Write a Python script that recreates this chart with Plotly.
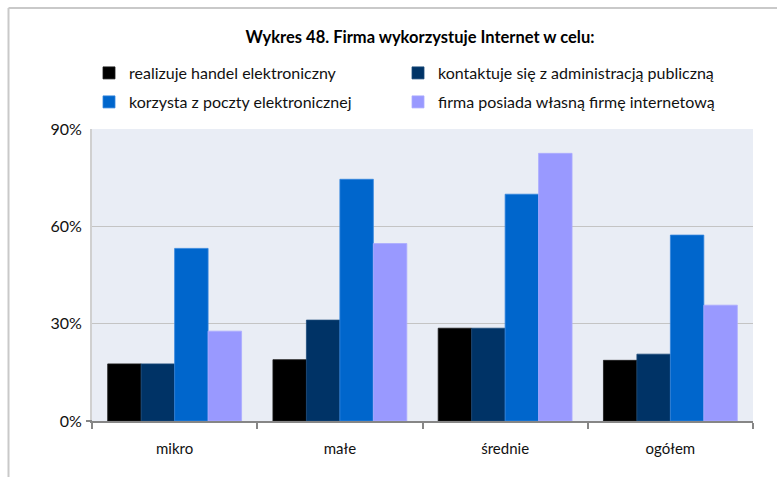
import plotly.graph_objects as go

# Survey results: share of firms using the Internet for each purpose
categories = ["mikro", "małe", "średnie", "ogółem"]
series_names = [
    "realizuje handel elektroniczny",
    "kontaktuje się z administracją publiczną",
    "korzysta z poczty elektronicznej",
    "firma posiada własną firmę internetową",
]
handel = [17.6, 18.9, 28.6, 18.7]
administracja = [17.6, 31.1, 28.6, 20.6]
poczta = [53.2, 74.5, 69.9, 57.3]
strona = [27.7, 54.7, 82.5, 35.7]
y_ticks = [0, 30, 60, 90]
y_tick_labels = ["0%", "30%", "60%", "90%"]

series_values = [handel, administracja, poczta, strona]
colors = ["#000000", "#003366", "#0066CC", "#9999FF"]
edge_colors = ["#1a1a1a", "#1a4a7a", "#3385dd", "#ababff"]
# one legend per entry, laid out as a 2 x 2 grid
legend_ids = ["legend", "legend2", "legend3", "legend4"]

W, H = 777, 477
L, R, T, B = 92, 24, 129, 56
pw, ph = W - L - R, H - T - B

fig = go.Figure()
for name, vals, col, edge, lg in zip(series_names, series_values, colors,
                                     edge_colors, legend_ids):
    fig.add_trace(go.Bar(
        name=name, x=categories, y=vals, legend=lg, showlegend=True,
        marker=dict(color=col, line=dict(color=edge, width=0.8)),
    ))

font_family = "Lato"
text_color = "#111111"


def px_to_paper_x(px):
    return (px - L) / pw


def px_to_paper_y(py):
    return (H - B - py) / ph


# outer frame (left and top edges)
frame_color = "#c9c9c9"
fig.add_shape(type="line", xref="paper", yref="paper",
              x0=px_to_paper_x(8.5), x1=px_to_paper_x(8.5),
              y0=px_to_paper_y(8), y1=px_to_paper_y(H + 5),
              line=dict(color=frame_color, width=2))
fig.add_shape(type="line", xref="paper", yref="paper",
              x0=px_to_paper_x(8.5), x1=px_to_paper_x(W + 5),
              y0=px_to_paper_y(8), y1=px_to_paper_y(8),
              line=dict(color=frame_color, width=2))
# small tick at the origin, left of the value axis
fig.add_shape(type="line", xref="paper", yref="paper",
              x0=px_to_paper_x(86), x1=0, y0=0, y1=0,
              line=dict(color="#868686", width=2))


def legend_entry(left_x, center_y):
    return dict(
        orientation="h",
        x=px_to_paper_x(left_x), xanchor="left",
        y=px_to_paper_y(center_y), yanchor="middle",
        itemwidth=30,
        font=dict(family=font_family, size=16, color=text_color),
        bgcolor="rgba(0,0,0,0)",
    )


col_x = [89, 398]
row_y = [73, 102]

fig.update_layout(
    width=W, height=H,
    margin=dict(l=L, r=R, t=T, b=B, pad=0),
    showlegend=True,
    paper_bgcolor="white",
    plot_bgcolor="#E9EDF5",
    barmode="group",
    bargap=0.19,
    bargroupgap=0,
    font=dict(family=font_family, size=16, color=text_color),
    title=dict(
        text="<b>Wykres 48. Firma wykorzystuje Internet w celu:</b>",
        x=px_to_paper_x(420), xref="paper", xanchor="center",
        y=1 - 37 / H, yanchor="middle",
        font=dict(family=font_family, size=16.5, color="#000000"),
    ),
    legend=legend_entry(col_x[0], row_y[0]),
    legend2=legend_entry(col_x[1], row_y[0]),
    legend3=legend_entry(col_x[0], row_y[1]),
    legend4=legend_entry(col_x[1], row_y[1]),
    xaxis=dict(
        showline=True, linecolor="#868686", linewidth=2,
        ticks="outside", ticklen=6, tickcolor="#868686", tickwidth=2,
        tickson="boundaries",
        ticklabelstandoff=13,
        showgrid=False,
        tickfont=dict(family=font_family, size=15, color=text_color),
    ),
    yaxis=dict(
        range=[0, 90],
        tickvals=y_ticks, ticktext=y_tick_labels,
        showline=True, linecolor="#d0d0d0", linewidth=2,
        showgrid=True, gridcolor="#c4c4c4", gridwidth=1,
        zeroline=False,
        ticks="", ticklabelstandoff=5,
        tickfont=dict(family=font_family, size=16, color=text_color),
    ),
)

fig.write_html("out.html")
